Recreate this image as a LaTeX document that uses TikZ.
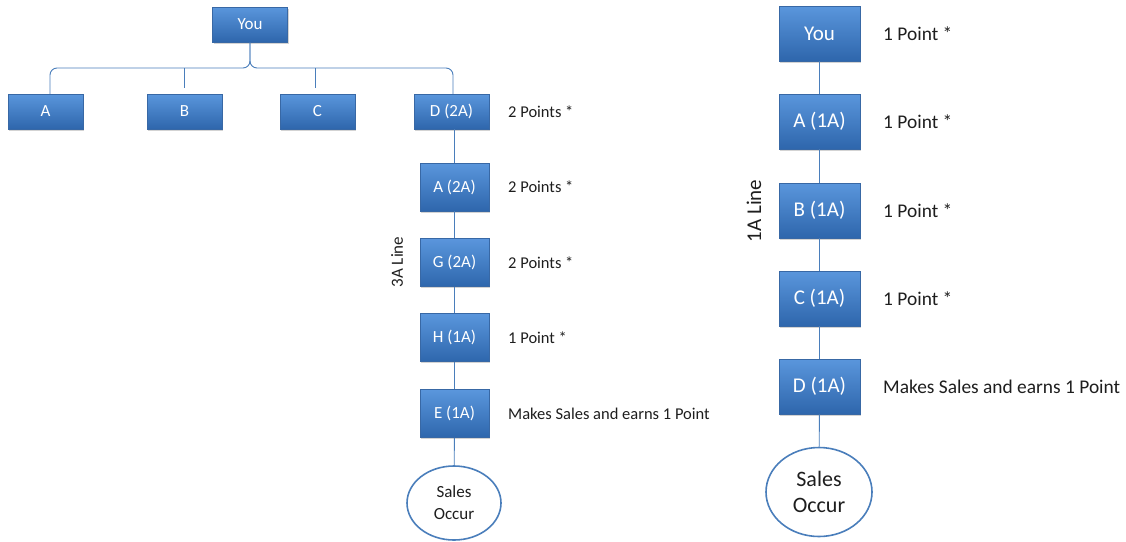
\documentclass[tikz,border=0pt]{standalone}
\usepackage{fontspec}
\setmainfont{Carlito}
\usetikzlibrary{shadows,shapes.geometric}
\definecolor{linec}{RGB}{74,126,187}
\definecolor{boxtop}{RGB}{90,150,220}
\definecolor{boxbot}{RGB}{46,102,172}
\definecolor{boxedge}{RGB}{56,104,165}
\definecolor{txt}{RGB}{30,30,30}
\tikzset{
  bbox/.style={draw=boxedge, line width=0.6pt, top color=boxtop, bottom color=boxbot,
    text=white, inner sep=0pt, align=center,
    drop shadow={opacity=0.35, shadow xshift=1.2pt, shadow yshift=-1.8pt}},
  lbox/.style={bbox, minimum width=69pt, minimum height=48pt, font=\fontsize{17}{19}\selectfont},
  tbox/.style={bbox, minimum width=75pt, minimum height=35pt, font=\fontsize{17}{19}\selectfont},
  rbox/.style={bbox, minimum width=81pt, minimum height=55pt, font=\fontsize{21}{23}\selectfont},
  conn/.style={draw=linec, line width=0.9pt},
  sales/.style={ellipse, draw=linec, line width=1.6pt, fill=white, align=center, text=txt, inner sep=0pt},
  lab/.style={anchor=west, text=txt, inner sep=0pt, font=\fontsize{16.5}{18}\selectfont},
  rlab/.style={anchor=west, text=txt, inner sep=0pt, font=\fontsize{19.4}{21}\selectfont},
}
\begin{document}
\begin{tikzpicture}[x=1pt,y=-1pt]
\useasboundingbox (0,0) rectangle (1126,541);
% left tree
\node[tbox] (you1) at (250,24.5) {You};
\node[tbox] (a1) at (45.5,111.5) {A};
\node[tbox] (b1) at (184.5,111.5) {B};
\node[tbox] (c1) at (317.5,111.5) {C};
\node[tbox] (d1) at (451.5,111.5) {D (2A)};
\coordinate (bar) at (250,68);
\coordinate (aTop) at (50,94);
\coordinate (dTop) at (453,94);
\coordinate (bTick) at (184,88);
\coordinate (cTick) at (315,88);
\draw[conn, rounded corners=7pt] (aTop) -- (aTop |- bar) -- (bar) -- (you1.south);
\draw[conn, rounded corners=7pt] (dTop) -- (dTop |- bar) -- (bar) -- (you1.south);
\draw[conn] (bTick |- bar) -- (bTick);
\draw[conn] (cTick |- bar) -- (cTick);

\node[lbox] (a2) at (454.5,187) {A (2A)};
\node[lbox] (g2) at (454.5,262.5) {G (2A)};
\node[lbox] (h2) at (454.5,337.5) {H (1A)};
\node[lbox] (e2) at (454.5,413.5) {E (1A)};
\node[sales, minimum width=94pt, minimum height=74pt, font=\fontsize{17}{22}\selectfont] (s1) at (454,503) {Sales\\Occur};
\draw[conn] (d1.south -| a2.north) -- (a2.north);
\draw[conn] (a2) -- (g2);
\draw[conn] (g2) -- (h2);
\draw[conn] (h2) -- (e2);
\draw[conn] (e2) -- (s1);

\node[lab] (ld) at (508,111.5) {2 Points *};
\node[lab] (la) at (508,187) {2 Points *};
\node[lab] (lg) at (508,262.5) {2 Points *};
\node[lab] (lh) at (508,337.5) {1 Point *};
\node[lab] (le) at (508,413.5) {Makes Sales and earns 1 Point};
\node[rotate=90, text=txt, inner sep=0pt, font=\fontsize{17}{19}\selectfont] (line3) at (397,262) {3A Line};

% right chain
\node[rbox] (yr) at (819.5,33.5) {You};
\node[rbox] (ar) at (819.5,121.5) {A (1A)};
\node[rbox] (br) at (819.5,210.5) {B (1A)};
\node[rbox] (cr) at (819.5,298.5) {C (1A)};
\node[rbox] (dr) at (819.5,386.5) {D (1A)};
\node[sales, minimum width=106pt, minimum height=89pt, font=\fontsize{22}{26}\selectfont] (sr) at (819,492) {Sales\\Occur};
\draw[conn] (yr) -- (ar);
\draw[conn] (ar) -- (br);
\draw[conn] (br) -- (cr);
\draw[conn] (cr) -- (dr);
\draw[conn] (dr) -- (sr);

\node[rlab] (ly) at (883,34) {1 Point *};
\node[rlab] (lar) at (883,122) {1 Point *};
\node[rlab] (lbr) at (883,211) {1 Point *};
\node[rlab] (lcr) at (883,299) {1 Point *};
\node[rlab] (ldr) at (883,387) {Makes Sales and earns 1 Point};
\node[rotate=90, text=txt, inner sep=0pt, font=\fontsize{21}{23}\selectfont] (line1) at (754,211) {1A Line};
\end{tikzpicture}
\end{document}
